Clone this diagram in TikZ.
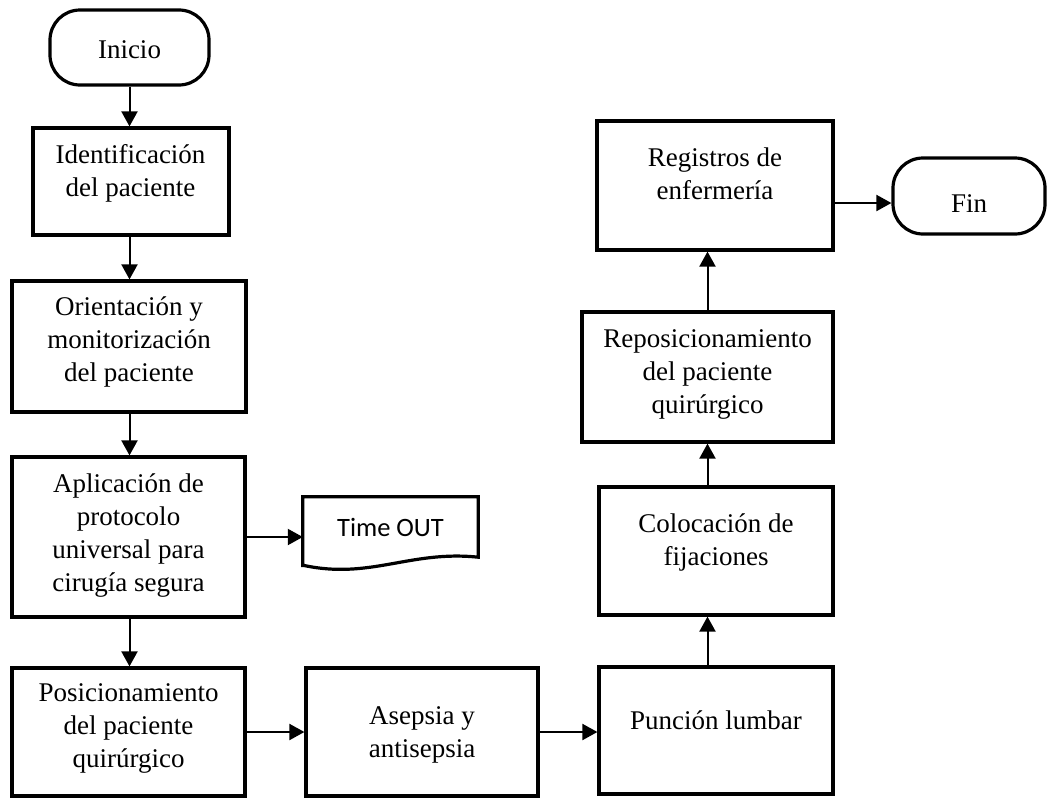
\documentclass[tikz,border=0pt]{standalone}
\usepackage{fontspec}
\setmainfont{Liberation Serif}
\newfontfamily\calibrifont{Carlito}
\usetikzlibrary{arrows.meta}

\tikzset{
  stepbox/.style={draw, line width=3.2pt, rectangle, inner sep=0pt},
  term/.style={draw, line width=3.2pt, rectangle, rounded corners=30pt, inner sep=0pt},
  txt/.style={align=center, inner sep=0pt, font=\fontsize{27}{33}\selectfont},
  arr/.style={line width=2pt, -{Triangle[length=15pt,width=16pt]}}
}

\begin{document}
\begin{tikzpicture}[x=1pt, y=-1pt]
\useasboundingbox (0,0) rectangle (1047,798);

% Start / end terminals
\node[term, minimum width=159pt, minimum height=75pt] (ini) at (129.5,47.5) {};
\node[txt] (tini) at (129.5,50) {Inicio};
\node[term, minimum width=152pt, minimum height=76pt] (fin) at (969,196) {};
\node[txt] (tfin) at (969,204) {Fin};

% Left column
\node[stepbox, minimum width=196pt, minimum height=107pt] (b1) at (131,181.5) {};
\node[txt] (t1) at (130.5,173) {Identificación\\del paciente};

\node[stepbox, minimum width=234pt, minimum height=131pt] (b2) at (129,346.5) {};
\node[txt] (t2) at (129,342) {Orientación y\\monitorización\\del paciente};

\node[stepbox, minimum width=233pt, minimum height=160pt] (b3) at (128.5,537) {};
\node[txt] (t3) at (128.5,536) {Aplicación de\\protocolo\\universal para\\cirugía segura};

\node[stepbox, minimum width=233pt, minimum height=128pt] (b4) at (128.5,732) {};
\node[txt] (t4) at (128.5,728) {Posicionamiento\\del paciente\\quirúrgico};

% Bottom row
\node[stepbox, minimum width=232pt, minimum height=128pt] (b5) at (422,732) {};
\node[txt] (t5) at (422,735) {Asepsia y\\antisepsia};

\node[stepbox, minimum width=234pt, minimum height=127pt] (b6) at (716,730.5) {};
\node[txt] (t6) at (716,720) {Punción lumbar};

% Right column
\node[stepbox, minimum width=234pt, minimum height=128pt] (b7) at (716,551) {};
\node[txt] (t7) at (716,542) {Colocación de\\fijaciones};

\node[stepbox, minimum width=251pt, minimum height=130pt] (b8) at (707.5,377) {};
\node[txt] (t8) at (707.5,374) {Reposicionamiento\\del paciente\\quirúrgico};

\node[stepbox, minimum width=236pt, minimum height=129pt] (b9) at (715,185.5) {};
\node[txt] (t9) at (715,174) {Registros de\\enfermería};

% Document shape (wavy bottom edge)
\node[minimum width=175pt, minimum height=70pt, inner sep=0pt] (tout) at (390.5,532) {};
\draw[line width=3.2pt, line join=miter]
  (tout.south west) -- (tout.north west) -- (tout.north east) -- ([yshift=10pt]tout.south east)
  .. controls (410,550) and (370,580) .. ([yshift=2pt]tout.south west) -- cycle;
\node[font=\calibrifont\fontsize{26.5}{33}\selectfont, inner sep=0pt] (ttout) at (390.5,527) {Time OUT};

% Connectors
\coordinate (fe) at ([yshift=-7pt]fin.west);
\draw[arr] (ini.south) -- (ini.south |- b1.north);
\draw[arr] (b1.south -| ini) -- (b2.north -| ini);
\draw[arr] (b2.south -| ini) -- (b3.north -| ini);
\draw[arr] (b3.south -| ini) -- (b4.north -| ini);
\draw[arr] (b3.east) -- (tout.west |- b3);
\draw[arr] (b4.east) -- (b5.west);
\draw[arr] (b5.east) -- (b5.east -| b6.west);
\draw[arr] (b6.north -| b8) -- (b7.south -| b8);
\draw[arr] (b7.north -| b8) -- (b8.south);
\draw[arr] (b8.north) -- (b8.north |- b9.south);
\draw[arr] (b9.east |- fe) -- (fe);
\end{tikzpicture}
\end{document}
